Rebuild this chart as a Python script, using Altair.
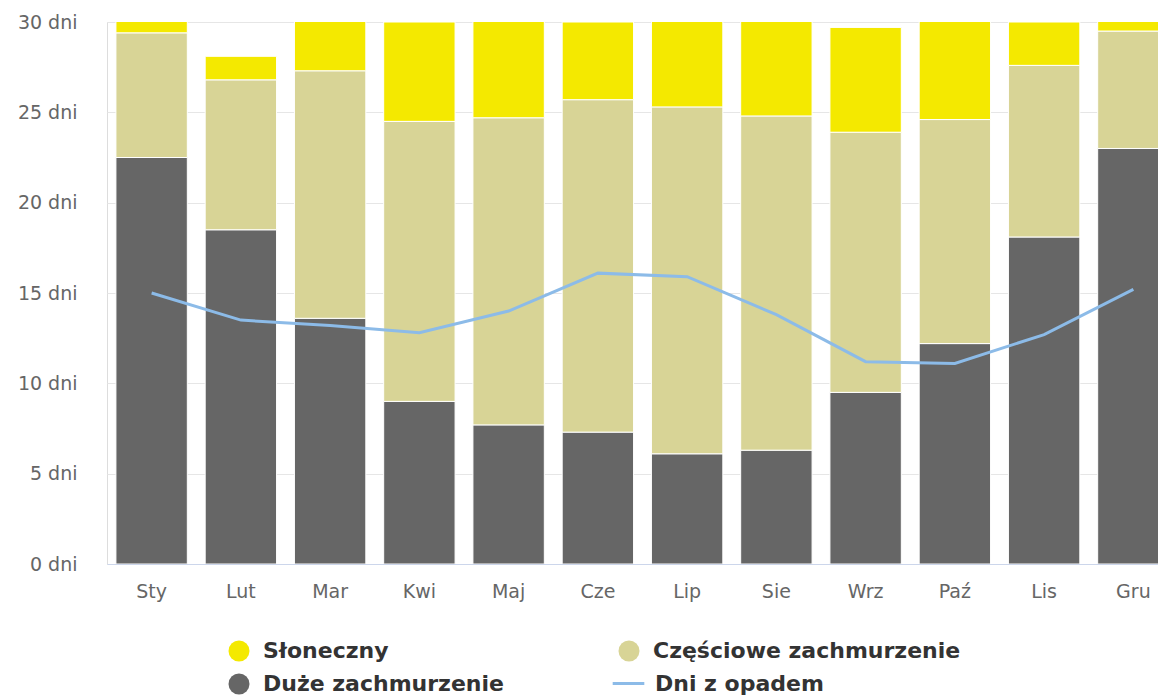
import altair as alt
import pandas as pd

months = ["Sty", "Lut", "Mar", "Kwi", "Maj", "Cze", "Lip", "Sie", "Wrz", "Paź", "Lis", "Gru"]
duze = [22.5, 18.5, 13.6, 9.0, 7.7, 7.3, 6.1, 6.3, 9.5, 12.2, 18.1, 23.0]
czesciowe = [6.9, 8.3, 13.7, 15.5, 17.0, 18.4, 19.2, 18.5, 14.4, 12.4, 9.5, 6.5]
sloneczny = [1.6, 1.3, 3.7, 5.5, 6.3, 4.3, 5.7, 6.2, 5.8, 6.4, 2.4, 1.5]
opad = [15.0, 13.5, 13.2, 12.8, 14.0, 16.1, 15.9, 13.8, 11.2, 11.1, 12.7, 15.2]

# legend order (column-major fill gives: row1 Słoneczny / Częściowe, row2 Duże)
series_names = ["Słoneczny", "Duże zachmurzenie", "Częściowe zachmurzenie"]
series_colors = ["#f4e900", "#666666", "#d8d496"]
line_name = "Dni z opadem"
line_color = "#8cbbe8"

rows = []
for i, m in enumerate(months):
    rows.append({"month": m, "series": "Duże zachmurzenie", "value": duze[i], "ord": 0})
    rows.append({"month": m, "series": "Częściowe zachmurzenie", "value": czesciowe[i], "ord": 1})
    rows.append({"month": m, "series": "Słoneczny", "value": sloneczny[i], "ord": 2})
bars_df = pd.DataFrame(rows)
line_df = pd.DataFrame({"month": months, "value": opad, "series": [line_name] * len(months)})

FONT = "DejaVu Sans"

x_axis = alt.Axis(title=None, labelAngle=0, labelFont=FONT, labelFontSize=19, labelColor="#666666",
                  domain=True, domainColor="#ccd6eb", domainWidth=1, ticks=False, labelPadding=18, grid=False)
y_axis = alt.Axis(title=None, values=[0, 5, 10, 15, 20, 25, 30], labelExpr="datum.value + ' dni'",
                  labelFont=FONT, labelFontSize=19, labelColor="#666666", labelPadding=30,
                  domain=False, ticks=False, grid=True, gridColor="#e6e6e6", gridWidth=1)
x_scale = alt.Scale(paddingInner=0.2, paddingOuter=0.1)
y_scale = alt.Scale(domain=[0, 30], nice=False, zero=True)

bars = alt.Chart(bars_df).mark_bar(clip=True, stroke="white", strokeWidth=1).encode(
    x=alt.X("month:N", sort=months, scale=x_scale, axis=x_axis),
    y=alt.Y("value:Q", stack="zero", scale=y_scale, axis=y_axis),
    fill=alt.Fill("series:N", scale=alt.Scale(domain=series_names, range=series_colors),
                  legend=alt.Legend(title=None, orient="none", legendX=121, legendY=618, columns=2,
                                    columnPadding=114, rowPadding=11, symbolType="circle", symbolSize=440,
                                    symbolStrokeWidth=0, labelFont=FONT, labelFontWeight="bold",
                                    labelFontSize=22, labelColor="#333333", labelOffset=13, labelLimit=0)),
    order=alt.Order("ord:Q"),
)

line = alt.Chart(line_df).mark_line(strokeWidth=3).encode(
    x=alt.X("month:N", sort=months, scale=x_scale, axis=x_axis),
    y=alt.Y("value:Q", scale=y_scale, axis=y_axis),
    stroke=alt.Stroke("series:N", scale=alt.Scale(domain=[line_name], range=[line_color]),
                      legend=alt.Legend(title=None, orient="none", legendX=504, legendY=644,
                                        symbolType="stroke", symbolSize=1000, symbolStrokeWidth=3,
                                        labelFont=FONT, labelFontWeight="bold", labelFontSize=22,
                                        labelColor="#333333", labelOffset=9, labelLimit=0)),
)

chart = (
    alt.layer(bars, line)
    .resolve_scale(fill="independent", stroke="independent")
    .properties(
        width=1071, height=542,
        autosize=alt.AutoSizeParams(type="none"),
        padding={"left": 99, "top": 14, "right": -20, "bottom": 131},
    )
    .configure_view(strokeWidth=0, strokeOpacity=0)
    .configure_axis(domain=False, ticks=False)
    .configure_axisX(grid=False)
    .configure(background="white")
)

chart.save("out.html", embed_options={"renderer": "svg", "actions": False})
